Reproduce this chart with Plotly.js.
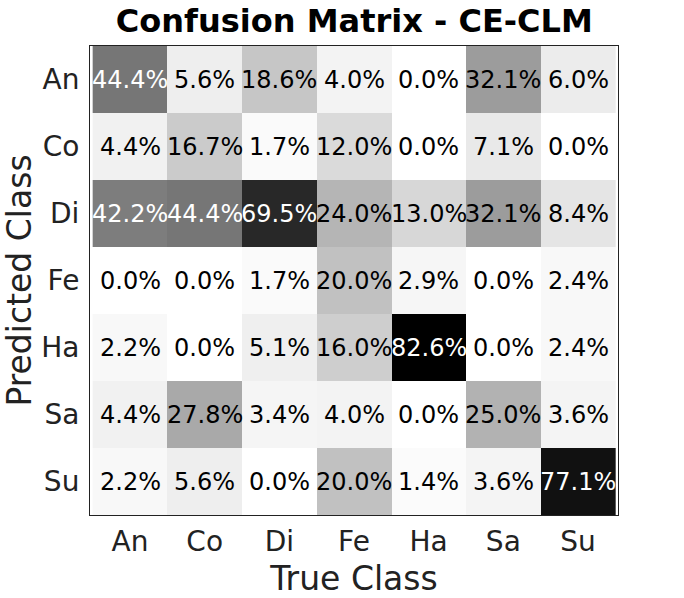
<!DOCTYPE html>
<html>
<head>
<meta charset="utf-8">
<script src="https://cdn.plot.ly/plotly-3.0.1.min.js"></script>
<style>
  html, body { margin: 0; padding: 0; background: #fff; }
  #chart { width: 684px; height: 598px; }
</style>
</head>
<body>
<div id="chart"></div>
<script>
const trueClasses = ["An", "Co", "Di", "Fe", "Ha", "Sa", "Su"];
const predictedClasses = ["An", "Co", "Di", "Fe", "Ha", "Sa", "Su"];

// rows = predicted class, columns = true class (percent)
const rowAn = [44.4, 5.6, 18.6, 4.0, 0.0, 32.1, 6.0];
const rowCo = [4.4, 16.7, 1.7, 12.0, 0.0, 7.1, 0.0];
const rowDi = [42.2, 44.4, 69.5, 24.0, 13.0, 32.1, 8.4];
const rowFe = [0.0, 0.0, 1.7, 20.0, 2.9, 0.0, 2.4];
const rowHa = [2.2, 0.0, 5.1, 16.0, 82.6, 0.0, 2.4];
const rowSa = [4.4, 27.8, 3.4, 4.0, 0.0, 25.0, 3.6];
const rowSu = [2.2, 5.6, 0.0, 20.0, 1.4, 3.6, 77.1];

const matrix = [rowAn, rowCo, rowDi, rowFe, rowHa, rowSa, rowSu];
const zMax = Math.max.apply(null, matrix.map(function(r) { return Math.max.apply(null, r); }));

const heat = {
  type: "heatmap",
  x: trueClasses,
  y: predictedClasses,
  z: matrix,
  zmin: 0,
  zmax: zMax,
  zsmooth: false,
  colorscale: [[0, "#ffffff"], [1, "#000000"]],
  showscale: false,
  hoverinfo: "skip",
};

const annotations = [];
matrix.forEach(function(row, i) {
  row.forEach(function(v, j) {
    annotations.push({
      x: trueClasses[j],
      y: predictedClasses[i],
      xref: "x",
      yref: "y",
      text: v.toFixed(1) + "%",
      showarrow: false,
      font: { family: "DejaVu Sans", size: 24, color: v > zMax / 2 ? "#ffffff" : "#000000" },
    });
  });
});

const layout = {
  width: 684,
  height: 598,
  paper_bgcolor: "#ffffff",
  plot_bgcolor: "#ffffff",
  font: { family: "DejaVu Sans", color: "#222222" },
  margin: { l: 90, r: 66, t: 46, b: 83 },
  title: {
    text: "<b>Confusion Matrix - CE-CLM</b>",
    font: { family: "DejaVu Sans", size: 32, color: "#000000" },
    x: 0.518,
    xanchor: "center",
    y: 0.965,
    yanchor: "middle",
  },
  xaxis: {
    title: { text: "True Class", font: { size: 33, color: "#222222" }, standoff: 12 },
    tickfont: { size: 28, color: "#222222" },
    showline: true,
    mirror: true,
    linecolor: "#222222",
    linewidth: 1,
    ticks: "outside",
    ticklen: 1,
    tickcolor: "rgba(0,0,0,0)",
    showgrid: false,
    zeroline: false,
  },
  yaxis: {
    title: { text: "Predicted Class", font: { size: 33, color: "#222222" }, standoff: 6 },
    tickfont: { size: 28, color: "#222222" },
    autorange: "reversed",
    showline: true,
    mirror: true,
    linecolor: "#222222",
    linewidth: 1,
    ticks: "outside",
    ticklen: 4,
    tickcolor: "rgba(0,0,0,0)",
    showgrid: false,
    zeroline: false,
  },
  annotations: annotations,
};

Plotly.newPlot("chart", [heat], layout, { displayModeBar: false, staticPlot: true });
</script>
</body>
</html>
